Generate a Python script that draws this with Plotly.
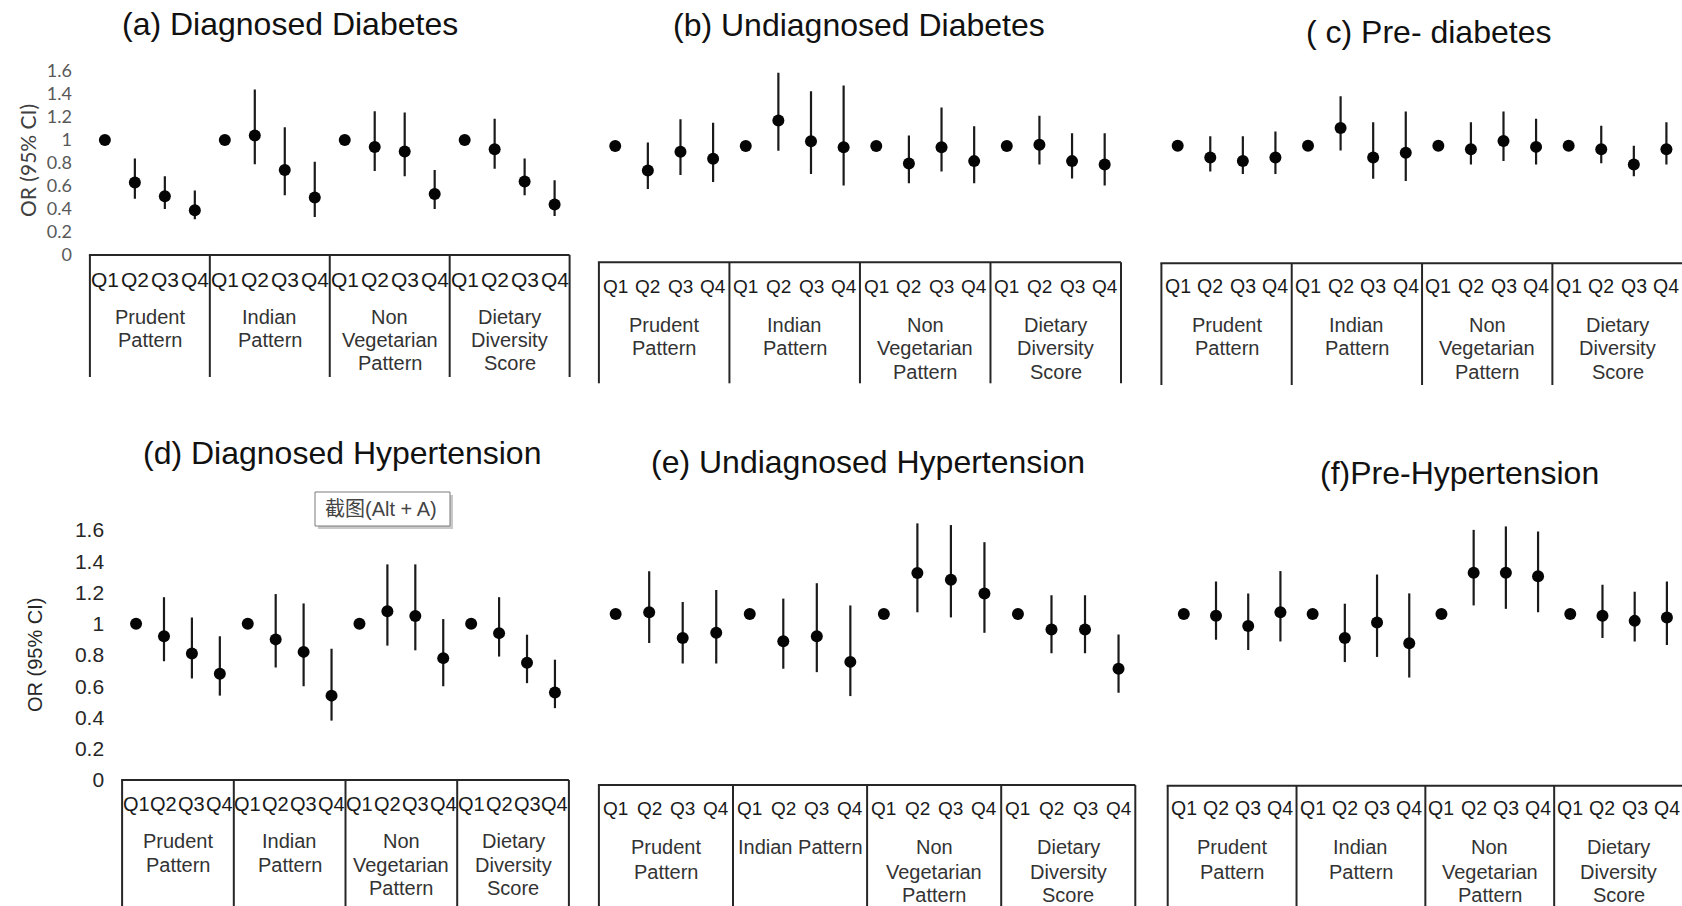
import plotly.graph_objects as go

W, H = 1682, 906

# ---------------- data ----------------
quartiles = ["Q1", "Q2", "Q3", "Q4"]
group_keys = ["Prudent", "Indian", "NonVeg", "DDS"]
groups = ["Prudent<br>Pattern", "Indian<br>Pattern", "Non<br>Vegetarian<br>Pattern", "Dietary<br>Diversity<br>Score"]
groups_e = ["Prudent<br>Pattern", "Indian Pattern", "Non<br>Vegetarian<br>Pattern", "Dietary<br>Diversity<br>Score"]
titles = ["(a) Diagnosed Diabetes", "(b) Undiagnosed Diabetes", "( c) Pre- diabetes",
          "(d) Diagnosed Hypertension", "(e) Undiagnosed Hypertension", "(f)Pre-Hypertension"]
y_title = "OR (95% CI)"
y_ticks = [0, 0.2, 0.4, 0.6, 0.8, 1, 1.2, 1.4, 1.6]
y_ticktext = ["0", "0.2", "0.4", "0.6", "0.8", "1", "1.2", "1.4", "1.6"]

# (a) Diagnosed Diabetes
or_a = [1, 0.63, 0.51, 0.39, 1, 1.04, 0.74, 0.50, 1, 0.94, 0.90, 0.53, 1, 0.92, 0.64, 0.44]
hi_a = [None, 0.84, 0.685, 0.56, None, 1.44, 1.11, 0.81, None, 1.25, 1.24, 0.74, None, 1.185, 0.84, 0.65]
lo_a = [None, 0.49, 0.40, 0.31, None, 0.79, 0.52, 0.33, None, 0.73, 0.685, 0.40, None, 0.75, 0.52, 0.34]
# (b) Undiagnosed Diabetes
or_b = [1, 0.79, 0.95, 0.89, 1, 1.22, 1.04, 0.99, 1, 0.85, 0.99, 0.87, 1, 1.01, 0.87, 0.84]
hi_b = [None, 1.03, 1.23, 1.20, None, 1.63, 1.47, 1.52, None, 1.09, 1.33, 1.17, None, 1.26, 1.11, 1.11]
lo_b = [None, 0.63, 0.75, 0.69, None, 0.96, 0.76, 0.66, None, 0.68, 0.78, 0.68, None, 0.84, 0.72, 0.66]
# (c) Pre-diabetes
or_c = [1, 0.90, 0.87, 0.90, 1, 1.15, 0.90, 0.94, 1, 0.97, 1.04, 0.99, 1, 0.97, 0.84, 0.97]
hi_c = [None, 1.08, 1.08, 1.12, None, 1.42, 1.20, 1.29, None, 1.20, 1.29, 1.23, None, 1.17, 1.00, 1.20]
lo_c = [None, 0.78, 0.76, 0.76, None, 0.96, 0.72, 0.70, None, 0.84, 0.87, 0.84, None, 0.85, 0.74, 0.84]
# (d) Diagnosed Hypertension
or_d = [1, 0.92, 0.81, 0.68, 1, 0.90, 0.82, 0.54, 1, 1.08, 1.05, 0.78, 1, 0.94, 0.75, 0.56]
hi_d = [None, 1.17, 1.04, 0.92, None, 1.19, 1.13, 0.84, None, 1.38, 1.38, 1.03, None, 1.17, 0.93, 0.77]
lo_d = [None, 0.76, 0.65, 0.54, None, 0.72, 0.60, 0.38, None, 0.86, 0.83, 0.60, None, 0.79, 0.62, 0.46]
# (e) Undiagnosed Hypertension
or_e = [1, 1.01, 0.86, 0.89, 1, 0.84, 0.87, 0.72, 1, 1.24, 1.20, 1.12, 1, 0.91, 0.91, 0.68]
hi_e = [None, 1.25, 1.07, 1.14, None, 1.09, 1.18, 1.05, None, 1.53, 1.52, 1.42, None, 1.11, 1.11, 0.88]
lo_e = [None, 0.83, 0.71, 0.71, None, 0.68, 0.66, 0.52, None, 1.01, 0.98, 0.89, None, 0.77, 0.77, 0.54]
# (f) Pre-Hypertension
or_f = [1, 0.99, 0.93, 1.01, 1, 0.86, 0.95, 0.83, 1, 1.24, 1.24, 1.22, 1, 0.99, 0.96, 0.98]
hi_f = [None, 1.19, 1.12, 1.25, None, 1.06, 1.23, 1.12, None, 1.49, 1.51, 1.48, None, 1.17, 1.13, 1.19]
lo_f = [None, 0.85, 0.79, 0.84, None, 0.72, 0.75, 0.63, None, 1.05, 1.03, 1.01, None, 0.86, 0.84, 0.82]

tooltip_text = "截图(Alt + A)"

# ---------------- layout helpers ----------------
def px(x):
    return x / W


def py(y):
    return 1 - y / H


FONT = "Liberation Sans, Arial, sans-serif"
CALIBRI = "Lato, Liberation Sans, sans-serif"

panels = [
    dict(title=titles[0], orv=or_a, lo=lo_a, hi=hi_a, groups=groups,
         left=89.9, right=569.6, y0=255, unit=115.0, ymax=1.6, bottom=377,
         qy=279, gy=[316.7, 340, 363.3], tx=290.4, ty=24, qsize=21,
         ylabels=dict(family=CALIBRI, size=18, color="#595959"), standoff=17,
         ytitle=dict(x=27, y=161, family=CALIBRI, size=21, color="#404040")),
    dict(title=titles[1], orv=or_b, lo=lo_b, hi=hi_b, groups=groups,
         left=598.9, right=1121.0, y0=262.3, unit=116.3, ymax=1.8, bottom=383.3,
         qy=286.2, gy=[325, 348.3, 371.7], tx=858.6, ty=25, qsize=19),
    dict(title=titles[2], orv=or_c, lo=lo_c, hi=hi_c, groups=groups,
         left=1161.4, right=1682.7, y0=263.3, unit=117.6, ymax=1.8, bottom=385,
         qy=286.2, gy=[325, 348.3, 371.7], tx=1428.7, ty=31.7, qsize=19.5),
    dict(title=titles[3], orv=or_d, lo=lo_d, hi=hi_d, groups=groups,
         left=122.1, right=568.9, y0=780, unit=156.25, ymax=1.6, bottom=906,
         qy=803.5, gy=[840.5, 865, 888.3], tx=342.2, ty=453.3, qsize=20,
         ylabels=dict(family=FONT, size=21, color="#262626"), standoff=17,
         ytitle=dict(x=35, y=655, family=FONT, size=20, color="#262626")),
    dict(title=titles[4], orv=or_e, lo=lo_e, hi=hi_e, groups=groups_e,
         left=598.9, right=1135.3, y0=785, unit=171.0, ymax=1.8, bottom=906,
         qy=808, gy=[846.7, 871.7, 895], tx=867.5, ty=461.7, qsize=19),
    dict(title=titles[5], orv=or_f, lo=lo_f, hi=hi_f, groups=groups,
         left=1167.7, right=1683.0, y0=785.7, unit=171.7, ymax=1.8, bottom=906,
         qy=808, gy=[846.7, 871.7, 895], tx=1459.8, ty=473.3, qsize=19.5),
]

x_cats = [f"{g} {q}" for g in group_keys for q in quartiles]
n_cat = len(x_cats)

fig = go.Figure()
layout = dict(width=W, height=H, autosize=False,
              margin=dict(l=0, r=0, t=0, b=0, pad=0, autoexpand=False),
              paper_bgcolor="white", plot_bgcolor="rgba(0,0,0,0)",
              showlegend=False, annotations=[], shapes=[])

LINE_COL = "#262626"

for i, p in enumerate(panels):
    n = i + 1
    xa = "x" if n == 1 else f"x{n}"
    ya = "y" if n == 1 else f"y{n}"
    xkey = "xaxis" if n == 1 else f"xaxis{n}"
    ykey = "yaxis" if n == 1 else f"yaxis{n}"

    err_plus = [0 if h is None else h - o for h, o in zip(p["hi"], p["orv"])]
    err_minus = [0 if l is None else o - l for l, o in zip(p["lo"], p["orv"])]

    fig.add_trace(go.Scatter(
        x=x_cats, y=p["orv"], mode="markers",
        marker=dict(size=12, color="#050505"),
        error_y=dict(type="data", symmetric=False, array=err_plus, arrayminus=err_minus,
                     width=0, thickness=2.2, color="#1a1a1a"),
        xaxis=xa, yaxis=ya, hoverinfo="skip"))

    # x domain / range (panels c and f are cut by the right image edge)
    right_vis = min(p["right"], W)
    span = p["right"] - p["left"]
    x_end = -0.5 + n_cat * (right_vis - p["left"]) / span
    layout[xkey] = dict(domain=[px(p["left"]), px(right_vis)], range=[-0.5, x_end],
                        type="category", categoryorder="array", categoryarray=x_cats,
                        showticklabels=False, showgrid=False, zeroline=False,
                        showline=False, ticks="", anchor=ya, fixedrange=True,
                        automargin=False)
    ytop = p["y0"] - p["ymax"] * p["unit"]
    ydict = dict(domain=[py(p["y0"]), py(ytop)], range=[0, p["ymax"]],
                 showgrid=False, zeroline=False, showline=False, ticks="",
                 anchor=xa, fixedrange=True, automargin=False)
    if "ylabels" in p:
        ydict.update(showticklabels=True, tickmode="array", tickvals=y_ticks,
                     ticktext=y_ticktext, tickfont=p["ylabels"],
                     ticklabelstandoff=p["standoff"])
        yt = p["ytitle"]
        layout["annotations"].append(dict(
            text=y_title, xref="paper", yref="paper", x=px(yt["x"]), y=py(yt["y"]),
            xanchor="center", yanchor="middle", textangle=-90, showarrow=False,
            font=dict(family=yt["family"], size=yt["size"], color=yt["color"])))
    else:
        ydict.update(showticklabels=False)
    layout[ykey] = ydict

    # category box: top line + group separators
    def cat_px(b):
        return p["left"] + b / n_cat * span

    layout["shapes"].append(dict(type="line", xref="paper", yref="paper",
                                 x0=px(p["left"] - 1), x1=px(right_vis), y0=py(p["y0"]), y1=py(p["y0"]),
                                 line=dict(color=LINE_COL, width=2)))
    for b in range(0, n_cat + 1, len(quartiles)):
        xb = cat_px(b)
        if xb > W - 2:
            continue
        layout["shapes"].append(dict(type="line", xref="paper", yref="paper",
                                     x0=px(xb), x1=px(xb), y0=py(p["y0"]), y1=py(p["bottom"]),
                                     line=dict(color=LINE_COL, width=2)))

    # quartile labels
    for k, cat in enumerate(x_cats):
        layout["annotations"].append(dict(
            text=quartiles[k % len(quartiles)], xref=xa, yref="paper", x=k, y=py(p["qy"]),
            xanchor="center", yanchor="middle", showarrow=False,
            font=dict(family=FONT, size=p["qsize"], color="#1a1a1a")))
    # group labels (one annotation per line)
    for g, gname in enumerate(p["groups"]):
        for li, line in enumerate(gname.split("<br>")):
            layout["annotations"].append(dict(
                text=line, xref=xa, yref="paper", x=g * len(quartiles) + 1.5, y=py(p["gy"][li]),
                xanchor="center", yanchor="middle", showarrow=False,
                font=dict(family=FONT, size=20, color="#333333")))
    # panel title
    layout["annotations"].append(dict(
        text=p["title"], xref="paper", yref="paper", x=px(p["tx"]), y=py(p["ty"]),
        xanchor="center", yanchor="middle", showarrow=False,
        font=dict(family=FONT, size=32, color="#111111")))

# screenshot tooltip artefact in panel (d)
layout["shapes"].append(dict(type="rect", xref="paper", yref="paper",
                             x0=px(318), x1=px(453), y0=py(529), y1=py(495),
                             fillcolor="#c9c9c9", line=dict(width=0)))
layout["shapes"].append(dict(type="rect", xref="paper", yref="paper",
                             x0=px(315), x1=px(450), y0=py(526), y1=py(492),
                             fillcolor="white", line=dict(color="#7a7a7a", width=1)))
layout["annotations"].append(dict(
    text=tooltip_text, xref="paper", yref="paper", x=px(381), y=py(509),
    xanchor="center", yanchor="middle", showarrow=False,
    font=dict(family="Liberation Sans, Noto Sans CJK SC, sans-serif", size=20, color="#444444")))

fig.update_layout(**layout)
fig.write_html("out.html")
